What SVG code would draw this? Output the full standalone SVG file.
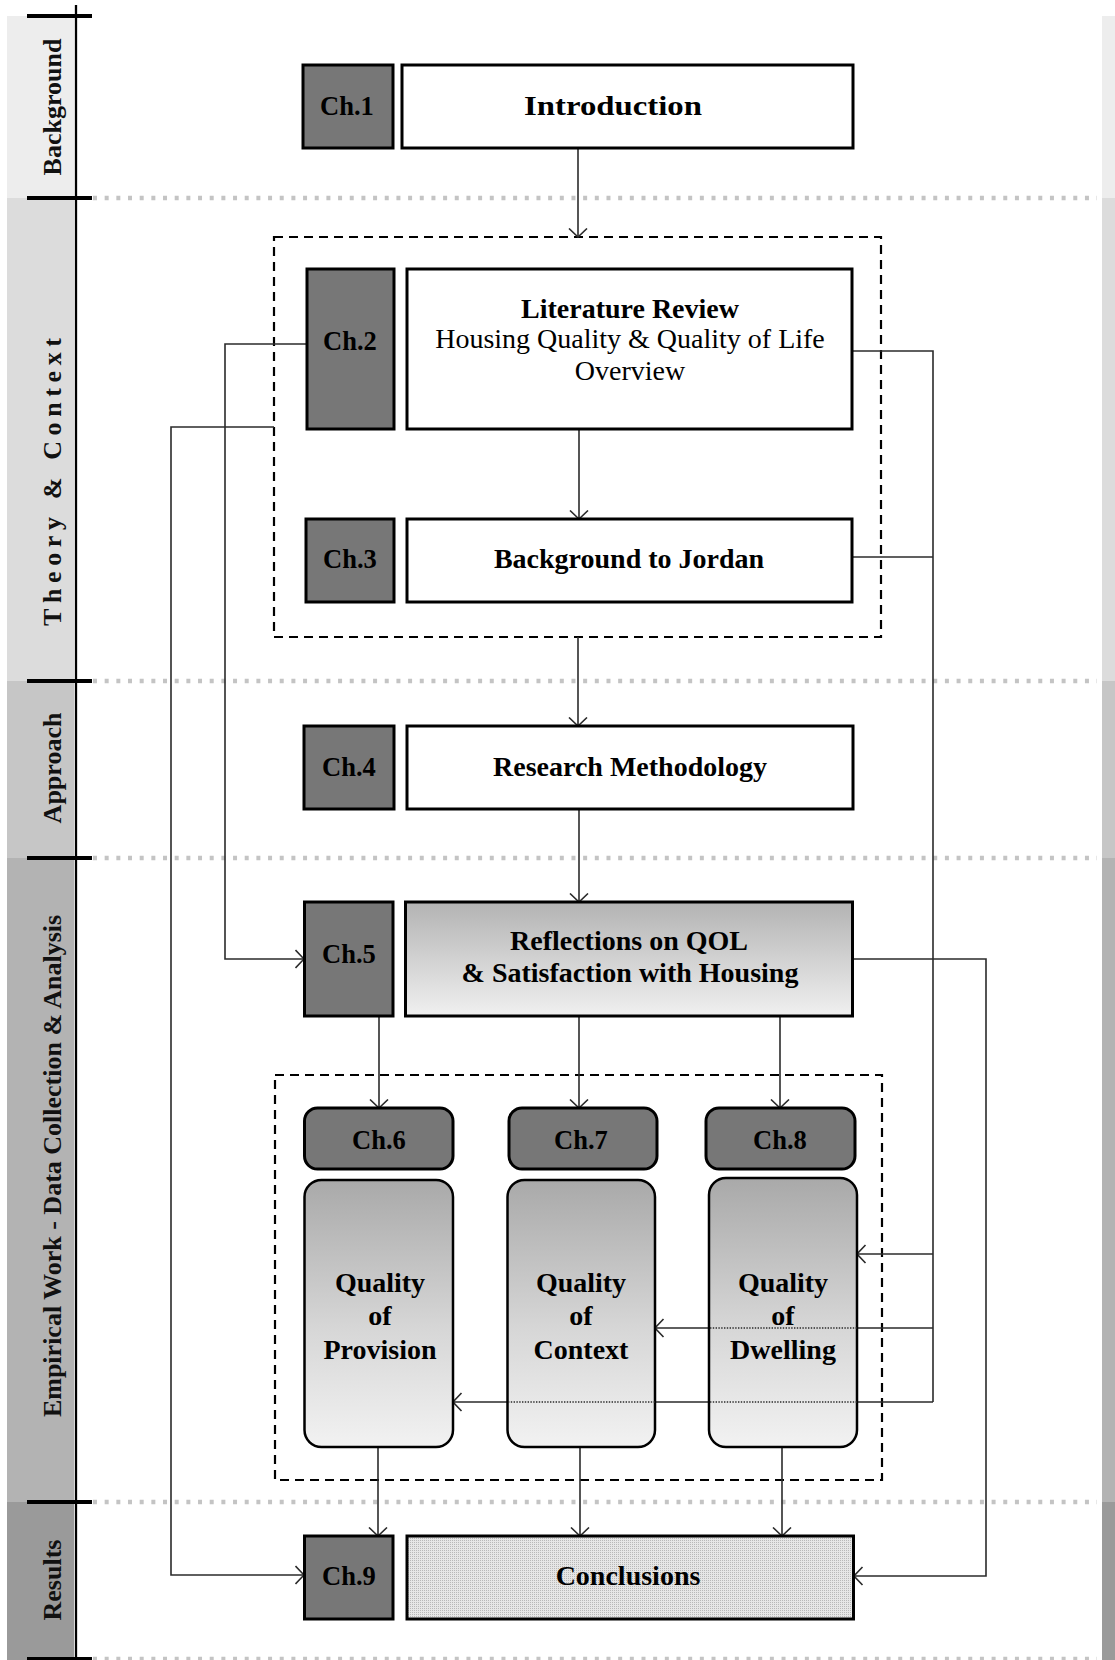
<svg xmlns="http://www.w3.org/2000/svg" width="1115" height="1660" viewBox="0 0 1115 1660">
  <defs>
    <style>
      .lbl { font-family: "Liberation Serif", "Times New Roman", serif; font-weight: bold; font-size: 26px; fill: #111; text-anchor: middle; }
      .t { font-family: "Liberation Serif", "Times New Roman", serif; font-weight: bold; font-size: 28px; fill: #000; text-anchor: middle; }
      .reg { font-weight: normal; }
      .chl { font-size: 26.5px; }
      .ch { fill: #777777; stroke: #000; stroke-width: 3; }
      .box { fill: #ffffff; stroke: #000; stroke-width: 3; }
      .conn { fill: none; stroke: #2b2b2b; stroke-width: 1.6; }
      .thru { fill: none; stroke: #2b2b2b; stroke-width: 1.4; stroke-dasharray: 1.4 1.4; }
      .sep { stroke: #c4c4c4; stroke-width: 4.5; stroke-dasharray: 4 7.67; }
      .tick { stroke: #000; stroke-width: 4; }
      .frame { fill: none; stroke: #000; stroke-width: 2.2; stroke-dasharray: 9 6; }
    </style>
    <marker id="arr" viewBox="0 0 10 20" refX="9.5" refY="10" markerWidth="10" markerHeight="20" markerUnits="userSpaceOnUse" orient="auto">
      <path d="M1,1 L9.5,10 L1,19" fill="none" stroke="#2b2b2b" stroke-width="1.6"/>
    </marker>
    <linearGradient id="gRefl" x1="0" y1="0" x2="0" y2="1">
      <stop offset="0" stop-color="#b3b3b3"/>
      <stop offset="1" stop-color="#f0f0f0"/>
    </linearGradient>
    <linearGradient id="gQual" x1="0" y1="0" x2="0" y2="1">
      <stop offset="0" stop-color="#a9a9a9"/>
      <stop offset="0.55" stop-color="#d6d6d6"/>
      <stop offset="1" stop-color="#f2f2f2"/>
    </linearGradient>
    <pattern id="stipple" width="2" height="2" patternUnits="userSpaceOnUse">
      <rect width="2" height="2" fill="#e6e6e6"/>
      <rect width="1" height="1" fill="#b8b8b8"/>
    </pattern>
  </defs>

  <rect width="1115" height="1660" fill="#ffffff"/>

  <!-- phase bands, left column and right edge strip -->
  <g id="bands">
    <rect x="7" y="16" width="67" height="182" fill="#ededed"/>
    <rect x="7" y="198" width="67" height="483" fill="#dcdcdc"/>
    <rect x="7" y="681" width="67" height="177" fill="#c6c6c6"/>
    <rect x="7" y="858" width="67" height="644" fill="#b3b3b3"/>
    <rect x="7" y="1502" width="67" height="158" fill="#9a9a9a"/>
    <rect x="1102" y="16" width="13" height="182" fill="#ededed"/>
    <rect x="1102" y="198" width="13" height="483" fill="#dcdcdc"/>
    <rect x="1102" y="681" width="13" height="177" fill="#c6c6c6"/>
    <rect x="1102" y="858" width="13" height="644" fill="#b3b3b3"/>
    <rect x="1102" y="1502" width="13" height="158" fill="#9a9a9a"/>

    <text class="lbl" transform="translate(61,107) rotate(-90)">Background</text>
    <text class="lbl" transform="translate(61,482) rotate(-90)" textLength="288" lengthAdjust="spacing">Theory &amp; Context</text>
    <text class="lbl" transform="translate(61,768) rotate(-90)">Approach</text>
    <text class="lbl" transform="translate(61,1166) rotate(-90)">Empirical Work - Data Collection &amp; Analysis</text>
    <text class="lbl" transform="translate(61,1580) rotate(-90)">Results</text>
  </g>

  <!-- phase separators -->
  <g id="separators">
    <line class="sep" x1="93" y1="198" x2="1097" y2="198"/>
    <line class="sep" x1="93" y1="681" x2="1097" y2="681"/>
    <line class="sep" x1="93" y1="858" x2="1097" y2="858"/>
    <line class="sep" x1="93" y1="1502" x2="1097" y2="1502"/>
    <line class="sep" x1="93" y1="1659" x2="1097" y2="1659"/>
    <line x1="76" y1="5" x2="76" y2="1660" stroke="#000" stroke-width="2.3"/>
    <line class="tick" x1="27" y1="16" x2="92" y2="16"/>
    <line class="tick" x1="27" y1="198" x2="92" y2="198"/>
    <line class="tick" x1="27" y1="681" x2="92" y2="681"/>
    <line class="tick" x1="27" y1="858" x2="92" y2="858"/>
    <line class="tick" x1="27" y1="1502" x2="92" y2="1502"/>
    <line class="tick" x1="27" y1="1659" x2="92" y2="1659"/>
  </g>

  <!-- grouping frames -->
  <rect id="frame-theory" class="frame" x="274" y="237" width="607" height="400"/>
  <rect id="frame-empirical" class="frame" x="275" y="1075" width="607" height="405"/>

  <!-- connectors -->
  <g id="connectors">
    <path class="conn" d="M578,148 V237" marker-end="url(#arr)"/>
    <path class="conn" d="M579,429 V519" marker-end="url(#arr)"/>
    <path class="conn" d="M578,637 V726" marker-end="url(#arr)"/>
    <path class="conn" d="M579,809 V902" marker-end="url(#arr)"/>
    <path class="conn" d="M379,1016 V1108" marker-end="url(#arr)"/>
    <path class="conn" d="M579,1016 V1108" marker-end="url(#arr)"/>
    <path class="conn" d="M780,1016 V1108" marker-end="url(#arr)"/>
    <path class="conn" d="M378,1447 V1536" marker-end="url(#arr)"/>
    <path class="conn" d="M580,1447 V1536" marker-end="url(#arr)"/>
    <path class="conn" d="M782,1447 V1536" marker-end="url(#arr)"/>
    <!-- Ch.2 to Ch.5 -->
    <path class="conn" d="M307,344 H225 V959 H304" marker-end="url(#arr)"/>
    <!-- theory frame to Ch.9 -->
    <path class="conn" d="M274,427 H171 V1575 H304" marker-end="url(#arr)"/>
    <!-- Ch.5 to conclusions -->
    <path class="conn" d="M853,959 H986 V1576 H854" marker-end="url(#arr)"/>
    <!-- theory chapters to ch.6-8 -->
    <path class="conn" d="M852,351 H933 V1402"/>
    <path class="conn" d="M852,557 H933"/>
    <path class="conn" d="M933,1254 H857" marker-end="url(#arr)"/>
    <path class="conn" d="M933,1328 H857 M709,1328 H655" marker-end="url(#arr)"/>
    <path class="conn" d="M933,1402 H857 M709,1402 H655 M508,1402 H453" marker-end="url(#arr)"/>
  </g>

  <g id="ch1">
    <rect class="ch" x="303" y="65" width="90" height="83"/>
    <text class="t chl" x="347" y="115">Ch.1</text>
  </g>
  <g id="introduction">
    <rect class="box" x="402" y="65" width="451" height="83"/>
    <text class="t" x="613" y="115" textLength="178" lengthAdjust="spacingAndGlyphs">Introduction</text>
  </g>

  <g id="ch2">
    <rect class="ch" x="307" y="269" width="87" height="160"/>
    <text class="t chl" x="350" y="350">Ch.2</text>
  </g>
  <g id="literature-review">
    <rect class="box" x="407" y="269" width="445" height="160"/>
    <text class="t" x="630" y="318">Literature Review</text>
    <text class="t reg" x="630" y="348">Housing Quality &amp; Quality of Life</text>
    <text class="t reg" x="630" y="380">Overview</text>
  </g>

  <g id="ch3">
    <rect class="ch" x="306" y="519" width="88" height="83"/>
    <text class="t chl" x="350" y="568">Ch.3</text>
  </g>
  <g id="background-jordan">
    <rect class="box" x="407" y="519" width="445" height="83"/>
    <text class="t" x="629" y="568">Background to Jordan</text>
  </g>

  <g id="ch4">
    <rect class="ch" x="304" y="726" width="90" height="83"/>
    <text class="t chl" x="349" y="776">Ch.4</text>
  </g>
  <g id="research-methodology">
    <rect class="box" x="407" y="726" width="446" height="83"/>
    <text class="t" x="630" y="776">Research Methodology</text>
  </g>

  <g id="ch5">
    <rect class="ch" x="304.5" y="902" width="88.5" height="114"/>
    <text class="t chl" x="349" y="963">Ch.5</text>
  </g>
  <g id="reflections">
    <rect x="405.5" y="902" width="447" height="114" fill="url(#gRefl)" stroke="#000" stroke-width="3"/>
    <text class="t" x="629" y="950">Reflections on QOL</text>
    <text class="t" x="630" y="982">&amp; Satisfaction with Housing</text>
  </g>

  <g id="ch6">
    <rect class="ch" x="304.5" y="1108" width="148.5" height="61" rx="13" stroke-width="2.5"/>
    <text class="t chl" x="379" y="1149">Ch.6</text>
  </g>
  <g id="ch7">
    <rect class="ch" x="509" y="1108" width="148" height="61" rx="13" stroke-width="2.5"/>
    <text class="t chl" x="581" y="1149">Ch.7</text>
  </g>
  <g id="ch8">
    <rect class="ch" x="706" y="1108" width="149" height="61" rx="13" stroke-width="2.5"/>
    <text class="t chl" x="780" y="1149">Ch.8</text>
  </g>

  <g id="quality-provision">
    <rect x="304.5" y="1180" width="148.5" height="267" rx="17" fill="url(#gQual)" stroke="#000" stroke-width="2.5"/>
    <text class="t" x="380" y="1292">Quality</text>
    <text class="t" x="380" y="1325">of</text>
    <text class="t" x="380" y="1359">Provision</text>
  </g>
  <g id="quality-context">
    <rect x="507.5" y="1180" width="147.5" height="267" rx="17" fill="url(#gQual)" stroke="#000" stroke-width="2.5"/>
    <text class="t" x="581" y="1292">Quality</text>
    <text class="t" x="581" y="1325">of</text>
    <text class="t" x="581" y="1359">Context</text>
  </g>
  <g id="quality-dwelling">
    <rect x="709" y="1178" width="148" height="269" rx="17" fill="url(#gQual)" stroke="#000" stroke-width="2.5"/>
    <text class="t" x="783" y="1292">Quality</text>
    <text class="t" x="783" y="1325">of</text>
    <text class="t" x="783" y="1359">Dwelling</text>
  </g>

  <!-- feedback lines showing through the quality boxes -->
  <g id="connectors-through">
    <line class="thru" x1="857" y1="1328" x2="709" y2="1328"/>
    <line class="thru" x1="857" y1="1402" x2="709" y2="1402"/>
    <line class="thru" x1="655" y1="1402" x2="508" y2="1402"/>
  </g>

  <g id="ch9">
    <rect class="ch" x="304.5" y="1536" width="88.5" height="83"/>
    <text class="t chl" x="349" y="1585">Ch.9</text>
  </g>
  <g id="conclusions">
    <rect x="407" y="1536" width="446.5" height="83" fill="url(#stipple)" stroke="#000" stroke-width="3"/>
    <text class="t" x="628" y="1585">Conclusions</text>
  </g>
</svg>
